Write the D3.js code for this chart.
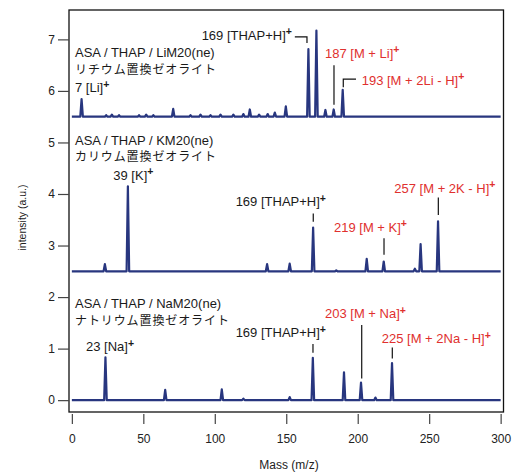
<!DOCTYPE html>
<html lang="ja">
<head>
<meta charset="UTF-8">
<title>MALDI spectra</title>
<script src="https://d3js.org/d3.v7.min.js"></script>
<style>
  body { margin: 0; background: #fff; }
  svg text { font-family: "Liberation Sans", Arial, sans-serif; }
  .jp { font-family: "Noto Sans CJK JP", sans-serif; }
</style>
</head>
<body>
<svg width="520" height="473"></svg>
<script>
// peaks: [mass, height above baseline]
const liPeaks = [[6.8,0.34],[24,0.03],[28,0.04],[33,0.03],[47,0.03],[52,0.04],[57,0.03],[70.9,0.15],
  [83,0.03],[90,0.04],[97,0.03],[104,0.04],[113,0.04],[120,0.05],[124.5,0.14],[131,0.04],[137,0.05],
  [142,0.08],[149.7,0.2],[165.5,1.31],[171.1,1.67],[177.4,0.13],[183.2,0.14],[189.5,0.52]];
const kPeaks = [[23.1,0.14],[39.2,1.65],[136.6,0.14],[152.4,0.15],[168.8,0.85],[185,0.02],
  [206.3,0.24],[218.2,0.19],[240,0.05],[244,0.53],[256.2,0.97]];
const naPeaks = [[23.5,0.83],[65.3,0.2],[104.9,0.21],[120,0.03],[152.4,0.06],[168.6,0.82],
  [190.4,0.54],[202.3,0.34],[212.4,0.05],[224,0.72]];
const offsets = [5.5, 2.5, 0];

const xTicks = [0, 50, 100, 150, 200, 250, 300];
const yTicks = [0, 1, 2, 3, 4, 5, 6, 7];

// sample titles: english line, japanese line, mass, intensity at middle of the two lines
const titles = [
  ["ASA / THAP / LiM20(ne)", "リチウム置換ゼオライト", 2.2, 6.58],
  ["ASA / THAP / KM20(ne)", "カリウム置換ゼオライト", 2.2, 4.88],
  ["ASA / THAP / NaM20(ne)", "ナトリウム置換ゼオライト", 2.2, 1.71]
];

// peak labels: text, superscript, mass, intensity, colour
const labels = [
  ["7 [Li]", "+", 2.2, 6.06, "k"],
  ["169 [THAP+H]", "+", 90.8, 7.08, "k"],
  ["187 [M + Li]", "+", 177.1, 6.73, "r"],
  ["193 [M + 2Li - H]", "+", 202.8, 6.21, "r"],
  ["39 [K]", "+", 29.0, 4.37, "k"],
  ["169 [THAP+H]", "+", 114.6, 3.85, "k"],
  ["219 [M + K]", "+", 183.4, 3.36, "r"],
  ["257 [M + 2K - H]", "+", 225.6, 4.11, "r"],
  ["23 [Na]", "+", 9.9, 1.04, "k"],
  ["169 [THAP+H]", "+", 114.6, 1.31, "k"],
  ["203 [M + Na]", "+", 177.1, 1.68, "r"],
  ["225 [M + 2Na - H]", "+", 216.8, 1.19, "r"]
];

// pointer lines: list of [mass, intensity] points
const pointers = [
  [[156.0,7.05],[164.5,7.05],[164.5,6.93]],
  [[183.4,6.50],[183.4,5.73]],
  [[198.8,6.23],[189.9,6.23],[189.9,6.07]],
  [[168.9,3.62],[168.9,3.46]],
  [[218.4,3.14],[218.4,2.82]],
  [[256.4,3.93],[256.4,3.59]],
  [[168.7,1.09],[168.7,0.92]],
  [[202.8,1.46],[202.8,0.42]],
  [[224.2,1.02],[224.2,0.81]]
];

const svg = d3.select("svg");
const x = d3.scaleLinear().domain([-2, 302]).range([69, 503.5]);
const y = d3.scaleLinear().domain([-0.23, 7.57]).range([412, 10]);

// spectra
const line = d3.line().x(d => x(d[0])).y(d => y(d[1]));
[liPeaks, kPeaks, naPeaks].forEach((peaks, i) => {
  const b = offsets[i];
  const pts = [[0, b]];
  peaks.forEach(([m, h]) => {
    pts.push([m - 0.9, b], [m, b + h], [m + 0.9, b]);
  });
  pts.push([300, b]);
  svg.append("path")
    .attr("d", line(pts))
    .attr("fill", "none")
    .attr("stroke", "#28367f")
    .attr("stroke-width", 2.2)
    .attr("stroke-linejoin", "round");
});

// frame
svg.append("rect")
  .attr("x", 69).attr("y", 10)
  .attr("width", 434.5).attr("height", 402)
  .attr("fill", "none").attr("stroke", "#111").attr("stroke-width", 1.3);

// axes
const yAxis = svg.append("g")
  .attr("transform", "translate(69,0)")
  .call(d3.axisLeft(y).tickValues(yTicks).tickSize(11).tickPadding(3));
const xAxis = svg.append("g")
  .attr("transform", "translate(0,414)")
  .call(d3.axisBottom(x).tickValues(xTicks).tickSize(10).tickPadding(10));
[xAxis, yAxis].forEach(g => {
  g.select(".domain").remove();
  g.selectAll("line").attr("stroke", "#444").attr("stroke-width", 1.2);
  g.selectAll("text").attr("font-size", 12).attr("fill", "#222")
    .attr("font-family", "'Liberation Sans', Arial, sans-serif");
});

svg.append("text")
  .attr("x", 289).attr("y", 469)
  .attr("text-anchor", "middle").attr("font-size", 12).attr("fill", "#222")
  .text("Mass (m/z)");
svg.append("text")
  .attr("transform", "translate(26,217.5) rotate(-90)")
  .attr("text-anchor", "middle").attr("font-size", 10.5).attr("fill", "#222")
  .text("intensity (a.u.)");

// pointers
svg.selectAll(".ptr").data(pointers).enter().append("path")
  .attr("class", "ptr")
  .attr("d", d => line(d))
  .attr("fill", "none").attr("stroke", "#111").attr("stroke-width", 1.2);

// titles (english line + japanese line)
titles.forEach(([en, jp, m, v]) => {
  const tx = svg.append("text")
    .attr("x", x(m)).attr("y", y(v) - 8.35 + 4.6)
    .attr("font-size", 13).attr("fill", "#1a1a1a");
  tx.append("tspan").text(en);
  tx.append("tspan").attr("class", "jp").attr("font-size", 12)
    .attr("letter-spacing", 0.9)
    .attr("x", x(m)).attr("dy", 16.4).text(jp);
});

// peak labels
labels.forEach(([t, sup, m, v, c]) => {
  const tx = svg.append("text")
    .attr("x", x(m)).attr("y", y(v) + 4.6)
    .attr("font-size", 13)
    .attr("fill", c === "r" ? "#e0302e" : "#1a1a1a");
  tx.append("tspan").text(t);
  if (sup) tx.append("tspan").attr("dy", -4.5).attr("font-size", 10.5).attr("font-weight", "bold").text(sup);
});
</script>
</body>
</html>
